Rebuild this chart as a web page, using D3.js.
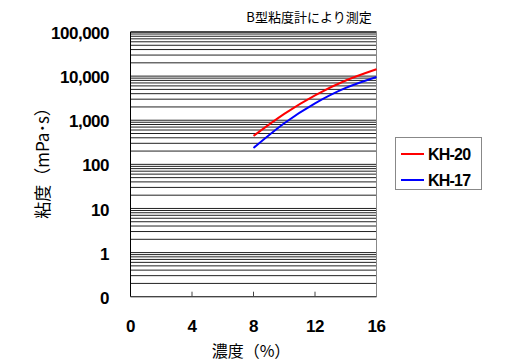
<!DOCTYPE html>
<html lang="ja">
<head>
<meta charset="UTF-8">
<title>B型粘度計により測定</title>
<script src="https://d3js.org/d3.v7.min.js"></script>
<style>
  body { margin: 0; background: #fff; }
  .tick-label { font-family: "Liberation Sans", Arial, sans-serif; font-weight: bold; font-size: 17px; letter-spacing: -0.5px; fill: #000; }
  .jp { font-family: "Noto Sans CJK JP", sans-serif; fill: #000; }
  .legend-text { font-family: "Liberation Sans", Arial, sans-serif; font-weight: bold; font-size: 16px; letter-spacing: -0.8px; fill: #000; }
</style>
</head>
<body>
<div id="chart"></div>
<script>
  // concentration (%) and viscosity (mPa·s)
  const concentration = [8, 10, 12, 14, 16];
  const kh20 = [442, 1396, 3673, 7943, 14290];
  const kh17 = [236, 857, 2415, 5408, 9570];
  const seriesNames = ["KH-20", "KH-17"];
  const seriesColors = ["#ff0000", "#0000ff"];

  const yTicks = [0.1, 1, 10, 100, 1000, 10000, 100000];
  const yTickLabels = ["0", "1", "10", "100", "1,000", "10,000", "100,000"];
  const xTicks = [0, 4, 8, 12, 16];

  const W = 512, H = 364;
  const plotL = 130.5, plotR = 376.5, plotT = 32, plotB = 296.7;

  const svg = d3.select("#chart").append("svg")
    .attr("width", W).attr("height", H);

  const x = d3.scaleLinear().domain([0, 16]).range([plotL, plotR]);
  const y = d3.scaleLog().domain([0.1, 100000]).range([plotB, plotT]);

  // gridlines: every 1..9 step of each decade
  const grid = [];
  for (let d = -1; d < 5; d++) {
    for (let k = 1; k <= 9; k++) grid.push(k * Math.pow(10, d));
  }
  grid.push(100000);

  svg.append("g").selectAll("line")
    .data(grid)
    .enter().append("line")
    .attr("x1", plotL).attr("x2", plotR)
    .attr("y1", d => y(d)).attr("y2", d => y(d))
    .attr("stroke", "#222")
    .attr("stroke-width", 1);

  // frame
  svg.append("line").attr("x1", plotL).attr("x2", plotR).attr("y1", plotT).attr("y2", plotT)
    .attr("stroke", "#000");
  svg.append("line").attr("x1", plotR).attr("x2", plotR).attr("y1", plotT).attr("y2", plotB)
    .attr("stroke", "#888");
  svg.append("line").attr("x1", plotL).attr("x2", plotL).attr("y1", plotT).attr("y2", plotB)
    .attr("stroke", "#000");
  svg.append("line").attr("x1", plotL).attr("x2", plotR).attr("y1", plotB).attr("y2", plotB)
    .attr("stroke", "#444");

  // x ticks (inward)
  svg.append("g").selectAll("line")
    .data(xTicks.slice(1, -1))
    .enter().append("line")
    .attr("x1", d => x(d)).attr("x2", d => x(d))
    .attr("y1", plotB).attr("y2", plotB - 5)
    .attr("stroke", "#444");

  // y tick labels
  svg.append("g").selectAll("text")
    .data(yTicks)
    .enter().append("text")
    .attr("class", "tick-label")
    .attr("x", 109)
    .attr("y", d => y(d) + 1)
    .attr("dy", "0.36em")
    .attr("text-anchor", "end")
    .text((d, i) => yTickLabels[i]);

  // x tick labels
  svg.append("g").selectAll("text")
    .data(xTicks)
    .enter().append("text")
    .attr("class", "tick-label")
    .attr("x", d => x(d))
    .attr("y", 326)
    .attr("dy", "0.36em")
    .attr("text-anchor", "middle")
    .text(d => d);

  // series
  const line = d3.line()
    .x(d => x(d[0]))
    .y(d => y(d[1]))
    .curve(d3.curveNatural);

  [kh20, kh17].forEach((vals, i) => {
    svg.append("path")
      .datum(concentration.map((c, j) => [c, vals[j]]))
      .attr("d", line)
      .attr("fill", "none")
      .attr("stroke", seriesColors[i])
      .attr("stroke-width", 2);
  });

  // titles
  svg.append("text").attr("class", "jp")
    .attr("x", 309).attr("y", 17.5).attr("dy", "0.35em")
    .attr("text-anchor", "middle").style("font-size", "13px")
    .text("B型粘度計により測定");

  svg.append("text").attr("class", "jp")
    .attr("x", 251).attr("y", 351).attr("dy", "0.35em")
    .attr("text-anchor", "middle").style("font-size", "16px")
    .text("濃度（%）");

  svg.append("text").attr("class", "jp")
    .attr("transform", "translate(43,159) rotate(-90)")
    .attr("dy", "0.35em")
    .attr("text-anchor", "middle").style("font-size", "17px")
    .text("粘度（mPa･s）");

  // legend
  const lg = svg.append("g");
  lg.append("rect")
    .attr("x", 395.5).attr("y", 137.5).attr("width", 86).attr("height", 52)
    .attr("fill", "#fff").attr("stroke", "#888");
  seriesNames.forEach((name, i) => {
    const ly = 154 + i * 26;
    lg.append("line")
      .attr("x1", 401).attr("x2", 424).attr("y1", ly).attr("y2", ly)
      .attr("stroke", seriesColors[i]).attr("stroke-width", 2);
    lg.append("text").attr("class", "legend-text")
      .attr("x", 428).attr("y", ly).attr("dy", "0.36em")
      .text(name);
  });
</script>
</body>
</html>
